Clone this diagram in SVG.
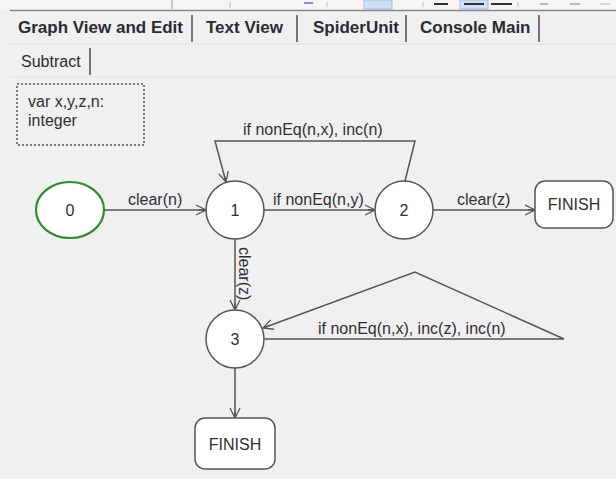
<svg xmlns="http://www.w3.org/2000/svg" width="616" height="479" viewBox="0 0 616 479">
  <defs>
    <style>
      .tab { font-family: "Liberation Sans", Arial, sans-serif; font-size: 17px; font-weight: bold; fill: #2b2b33; }
      .sub { font-family: "Liberation Sans", Arial, sans-serif; font-size: 16px; fill: #2b2b33; }
      .sep { stroke: #777; stroke-width: 2; }
      .lbl { font-family: "Liberation Sans", Arial, sans-serif; font-size: 16px; fill: #2f2f35; }
      .mid { text-anchor: middle; }
      .state { fill: #ffffff; stroke: #555; stroke-width: 1.5; }
      .edge { fill: none; stroke: #555; stroke-width: 1.5; }
    </style>
    <marker id="arrow" viewBox="0 0 12 12" refX="11" refY="6" markerWidth="12" markerHeight="12" markerUnits="userSpaceOnUse" orient="auto">
      <path d="M1,1 L11,6 L1,11 M4,6 L11,6" fill="none" stroke="#555" stroke-width="1.3"/>
    </marker>
  </defs>

  <!-- window background -->
  <rect x="0" y="0" width="616" height="479" fill="#f0f0f0"/>

  <!-- toolbar remnants -->
  <rect x="0" y="0" width="616" height="10" fill="#f6f6f6"/>
  <line x1="172" y1="0" x2="172" y2="9" stroke="#999" stroke-width="1"/>
  <line x1="230" y1="2" x2="230" y2="8" stroke="#bbb" stroke-width="1"/>
  <line x1="304" y1="3" x2="313" y2="3" stroke="#8a8ae0" stroke-width="2"/>
  <line x1="327" y1="2" x2="327" y2="7" stroke="#bbb" stroke-width="1"/>
  <rect x="364" y="0" width="28" height="9" fill="#cfe0f5" stroke="#9ec0ea" stroke-width="1"/>
  <line x1="423" y1="2" x2="423" y2="7" stroke="#bbb" stroke-width="1"/>
  <rect x="460" y="0" width="28" height="9" fill="#cfe0f5" stroke="#9ec0ea" stroke-width="1"/>
  <line x1="434" y1="4" x2="448" y2="4" stroke="#333" stroke-width="2"/>
  <line x1="464" y1="4" x2="484" y2="4" stroke="#333" stroke-width="2"/>
  <line x1="491" y1="4" x2="512" y2="4" stroke="#333" stroke-width="2"/>
  <line x1="518" y1="2" x2="518" y2="7" stroke="#bbb" stroke-width="1"/>
  <line x1="540" y1="4" x2="548" y2="4" stroke="#aaa" stroke-width="1.5"/>
  <line x1="570" y1="4" x2="580" y2="4" stroke="#aaa" stroke-width="1.5"/>
  <line x1="600" y1="4" x2="610" y2="4" stroke="#ccc" stroke-width="1.5"/>
  <line x1="10" y1="10.5" x2="616" y2="10.5" stroke="#888" stroke-width="1.5"/>

  <!-- tab rows -->
  <text class="tab" x="18" y="33">Graph View and Edit</text>
  <line class="sep" x1="192" y1="15" x2="192" y2="42"/>
  <text class="tab" x="206" y="33">Text View</text>
  <line class="sep" x1="297" y1="15" x2="297" y2="42"/>
  <text class="tab" x="313" y="33">SpiderUnit</text>
  <line class="sep" x1="406" y1="15" x2="406" y2="42"/>
  <text class="tab" x="420" y="33">Console Main</text>
  <line class="sep" x1="539" y1="15" x2="539" y2="42"/>
  <line x1="10" y1="44" x2="616" y2="44" stroke="#e2e2e2" stroke-width="1"/>
  <text class="sub" x="21" y="67">Subtract</text>
  <line class="sep" x1="90" y1="48" x2="90" y2="75"/>
  <line x1="10" y1="77" x2="616" y2="77" stroke="#e2e2e2" stroke-width="1"/>

  <!-- variable declaration box -->
  <g id="vars">
    <rect x="17" y="84" width="127" height="61" fill="none" stroke="#555" stroke-width="1.5" stroke-dasharray="2,2"/>
    <text class="lbl" x="28" y="107">var x,y,z,n:</text>
    <text class="lbl" x="28" y="126">integer</text>
  </g>

  <!-- transitions -->
  <g id="connectors">
    <line class="edge" x1="104" y1="210" x2="206" y2="210" marker-end="url(#arrow)"/>
    <text class="lbl" x="128" y="205">clear(n)</text>

    <line class="edge" x1="264" y1="210" x2="375" y2="210" marker-end="url(#arrow)"/>
    <text class="lbl" x="273" y="205">if nonEq(n,y)</text>

    <line class="edge" x1="433" y1="210" x2="535" y2="210" marker-end="url(#arrow)"/>
    <text class="lbl" x="457" y="205">clear(z)</text>

    <polyline class="edge" points="405,181 415,141 215,141 226,182" marker-end="url(#arrow)"/>
    <text class="lbl" x="243" y="135">if nonEq(n,x), inc(n)</text>

    <line class="edge" x1="235" y1="239" x2="235" y2="310" marker-end="url(#arrow)"/>
    <text class="lbl" x="239" y="247" transform="rotate(90 239 247)">clear(z)</text>

    <polyline class="edge" points="265,339 564,339 415,272 263,328" marker-end="url(#arrow)"/>
    <text class="lbl" x="318" y="334">if nonEq(n,x), inc(z), inc(n)</text>

    <line class="edge" x1="235" y1="368" x2="235" y2="418" marker-end="url(#arrow)"/>
  </g>

  <!-- states -->
  <g id="state0">
    <ellipse cx="70" cy="210" rx="34" ry="28" fill="#ffffff" stroke="#2e8b2e" stroke-width="2.2"/>
    <text class="lbl mid" x="70" y="216">0</text>
  </g>
  <g id="state1">
    <circle class="state" cx="235" cy="210" r="29"/>
    <text class="lbl mid" x="235" y="216">1</text>
  </g>
  <g id="state2">
    <circle class="state" cx="404" cy="210" r="29"/>
    <text class="lbl mid" x="404" y="216">2</text>
  </g>
  <g id="state3">
    <circle class="state" cx="235" cy="339" r="29"/>
    <text class="lbl mid" x="235" y="345">3</text>
  </g>
  <g id="finish1">
    <rect class="state" x="535" y="181" width="78" height="47" rx="10"/>
    <text class="lbl mid" x="574" y="210">FINISH</text>
  </g>
  <g id="finish2">
    <rect class="state" x="195" y="418" width="80" height="51" rx="10"/>
    <text class="lbl mid" x="235" y="450">FINISH</text>
  </g>
</svg>
